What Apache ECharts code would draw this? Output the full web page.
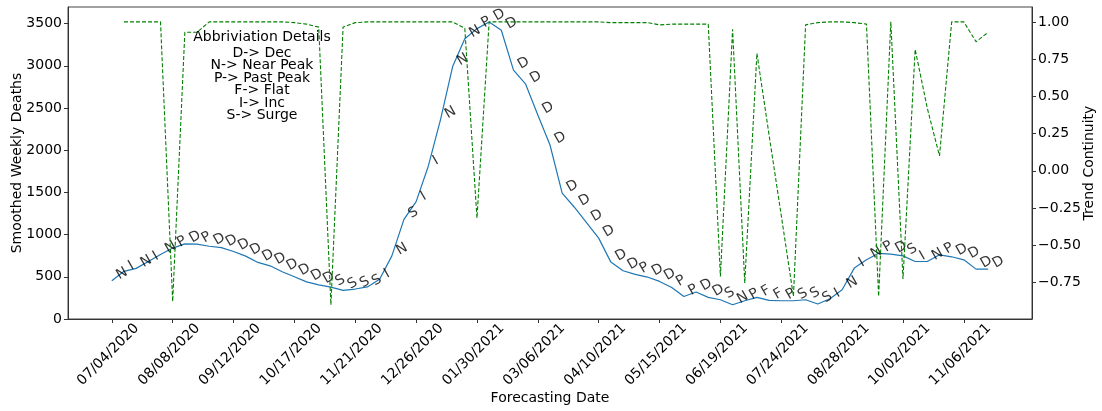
<!DOCTYPE html>
<html>
<head>
<meta charset="utf-8">
<script src="https://cdn.jsdelivr.net/npm/echarts@6/dist/echarts.min.js"></script>
<style>
html,body{margin:0;padding:0;background:#fff;}
#main{width:1102px;height:411px;}
</style>
</head>
<body>
<div id="main"></div>
<script>
// Weekly forecasting dates: week index 0 = 07/04/2020, ticks every 5 weeks
const tickWeeks = [0,5,10,15,20,25,30,35,40,45,50,55,60,65,70];
const tickLabels = ['07/04/2020','08/08/2020','09/12/2020','10/17/2020','11/21/2020','12/26/2020','01/30/2021','03/06/2021','04/10/2021','05/15/2021','06/19/2021','07/24/2021','08/28/2021','10/02/2021','11/06/2021'];

// Smoothed weekly deaths, weeks 0..72
const deaths = [453,565,600,680,765,840,890,888,862,845,800,745,670,630,560,500,440,405,378,340,355,380,470,745,1180,1390,1810,2360,2990,3320,3440,3519,3420,2948,2782,2416,2061,1490,1324,1142,958,674,571,528,497,445,374,267,320,256,228,169,216,256,220,216,216,228,177,240,346,603,701,778,768,748,681,681,760,737,701,591,591];

// Trend label per week
const trendLabels = ['N','I','N','I','N','P','D','P','D','D','D','D','D','D','D','D','D','D','S','S','S','S','I','N','S','I','I','N','N','N','P','D','D','D','D','D','D','D','D','D','D','D','D','P','D','D','P','P','D','D','S','N','P','F','F','P','S','S','S','I','N','I','N','P','D','S','I','N','P','D','D','D','D'];

// Trend continuity, weeks 0..72 (week 0 has no value)
const continuity = [null,1.0,1.0,1.0,1.0,-0.877,0.93,0.93,1.0,1.0,1.0,1.0,1.0,1.0,1.0,0.995,0.985,0.965,-0.9,0.965,0.995,1.0,1.0,1.0,1.0,1.0,1.0,1.0,1.0,0.957,-0.317,1.0,1.0,1.0,1.0,1.0,1.0,1.0,1.0,1.0,1.0,0.995,0.995,0.995,0.995,0.98,0.985,0.985,0.985,0.985,-0.709,0.95,-0.753,0.789,0.24,-0.30,-0.843,0.98,0.995,1.0,1.0,0.995,0.985,-0.843,1.0,-0.726,0.816,0.42,0.10,1.0,1.0,0.867,0.93];

const leftTicks = [0,500,1000,1500,2000,2500,3000,3500];
const rightTicks = [-0.75,-0.5,-0.25,0,0.25,0.5,0.75,1.0];

const legendLines = ['Abbriviation Details','D-> Dec','N-> Near Peak','P-> Past Peak','F-> Flat','I-> Inc','S-> Surge'];

const FONT = 'DejaVu Sans';
const chart = echarts.init(document.getElementById('main'), null, {renderer:'canvas'});

const deathData = deaths.map((v,i)=>[i,v]);
const contData = continuity.map((v,i)=>[i, v==null ? '-' : v]);

const axisLineStyle = {color:'#333', width:1};

const legendGraphics = legendLines.map((t,i)=>({
  type:'text', x:262, y:37.7 + (i===0?0:15.6 + (i-1)*12.4),
  style:{text:t, fontFamily:FONT, fontSize:14, fill:'#000', align:'center', verticalAlign:'middle'},
  z:10
}));

chart.setOption({
  animation:false,
  backgroundColor:'#fff',
  grid:{left:68, top:7, width:964, height:312, show:true, borderColor:'#444', borderWidth:1,
    containLabel:false, outerBoundsMode:'none'},
  xAxis:{
    type:'value', min:-3.6, max:75.6,
    axisLine:{show:true, onZero:false, lineStyle:axisLineStyle},
    axisTick:{show:true, length:4, lineStyle:axisLineStyle, customValues:tickWeeks},
    axisLabel:{show:true, customValues:tickWeeks, rotate:45, align:'center', verticalAlign:'middle', margin:32,
      padding:[0,10,0,0],
      fontFamily:FONT, fontSize:14, color:'#000',
      formatter:(v)=>{const k=tickWeeks.indexOf(Math.round(v)); return k>=0?tickLabels[k]:'';}},
    splitLine:{show:false},
    name:'Forecasting Date', nameLocation:'middle', nameGap:72, nameMoveOverlap:false,
    nameTextStyle:{fontFamily:FONT, fontSize:14, color:'#000'}
  },
  yAxis:[{
    type:'value', min:0, max:3696, position:'left',
    axisLine:{show:true, onZero:false, lineStyle:axisLineStyle},
    axisTick:{show:true, length:4, lineStyle:axisLineStyle, customValues:leftTicks},
    axisLabel:{show:true, customValues:leftTicks, margin:6, fontFamily:FONT, fontSize:14, color:'#000',
      formatter:(v)=>String(v)},
    splitLine:{show:false},
    name:'Smoothed Weekly Deaths', nameLocation:'middle', nameGap:44, nameRotate:90, nameMoveOverlap:false,
    nameTextStyle:{fontFamily:FONT, fontSize:14, color:'#000'}
  },{
    type:'value', min:-0.995, max:1.1, position:'right',
    axisLine:{show:true, onZero:false, lineStyle:axisLineStyle},
    axisTick:{show:true, length:4, lineStyle:axisLineStyle, customValues:rightTicks},
    axisLabel:{show:true, customValues:rightTicks, margin:6, fontFamily:FONT, fontSize:14, color:'#000',
      formatter:(v)=>v.toFixed(2).replace('-','\u2212')},
    splitLine:{show:false},
    name:'Trend Continuity', nameLocation:'middle', nameGap:50, nameRotate:90, nameMoveOverlap:false,
    nameTextStyle:{fontFamily:FONT, fontSize:14, color:'#000'}
  }],
  graphic:legendGraphics,
  series:[{
    type:'line', yAxisIndex:0, data:deathData, showSymbol:false, symbol:'none',
    lineStyle:{color:'#1f77b4', width:1.2}, silent:true, z:2
  },{
    type:'scatter', yAxisIndex:0, data:deathData, symbolSize:1, itemStyle:{color:'rgba(0,0,0,0)'},
    silent:true, z:3,
    label:{show:true, position:'inside', align:'left', verticalAlign:'bottom', rotate:30,
      fontFamily:FONT, fontSize:14, color:'#000',
      formatter:(p)=>trendLabels[p.dataIndex]},
    labelLayout:{hideOverlap:false, dx:7, dy:6}
  },{
    type:'line', yAxisIndex:1, data:contData, showSymbol:false, symbol:'none', connectNulls:false,
    lineStyle:{color:'#008000', width:1.1, type:[4,2]}, silent:true, z:4
  }]
});
</script>
</body>
</html>
